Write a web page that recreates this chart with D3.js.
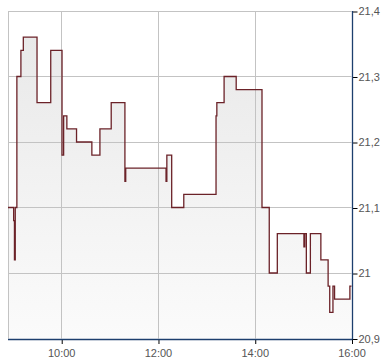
<!DOCTYPE html>
<html><head><meta charset="utf-8">
<script src="https://cdn.jsdelivr.net/npm/d3@7"></script>
<style>body{margin:0;background:#fff}svg{display:block}</style>
</head><body><svg id="c" width="390" height="364"></svg>
<script>
const times = ["08:54","09:01","09:02","09:03","09:05","09:10","09:13","09:30","09:47","10:01","10:03","10:07","10:19","10:38","10:48","11:02","11:19","11:20","12:10","12:11","12:17","12:32","13:12","13:13","13:22","13:37","14:09","14:18","14:28","15:01","15:02","15:04","15:09","15:22","15:31","15:33","15:37","15:39","15:58","16:00"];
const values = [21.10,21.08,21.02,21.10,21.30,21.34,21.36,21.26,21.34,21.18,21.24,21.22,21.20,21.18,21.22,21.26,21.14,21.16,21.14,21.18,21.10,21.12,21.24,21.26,21.30,21.28,21.10,21.00,21.06,21.04,21.06,21.00,21.06,21.02,20.98,20.94,20.98,20.96,20.98,20.98];
const xTickTimes = ["10:00","12:00","14:00","16:00"];
const xTickLabels = ["10:00","12:00","14:00","16:00"];
const yTickValues = [20.9,21.0,21.1,21.2,21.3,21.4];
const yTickLabels = ["20,9","21","21,1","21,2","21,3","21,4"];
const domainStart = "08:54", domainEnd = "16:00";

const parse = d3.timeParse("%H:%M");
const data = times.map((t,i)=>({t:parse(t), v:values[i]}));
const svg = d3.select("#c");
const L=8, R=351.5, T=11, B=338.5;
const x = d3.scaleTime().domain([parse(domainStart), parse(domainEnd)]).range([L,R]);
const y = d3.scaleLinear().domain([20.9,21.4]).range([B,T]);
const px = v => Math.round(v)+0.5;

const defs = svg.append("defs");
const g = defs.append("linearGradient").attr("id","gr").attr("x1",0).attr("y1",0).attr("x2",0).attr("y2",1);
g.append("stop").attr("offset","0%").attr("stop-color","#e9e9e9");
g.append("stop").attr("offset","100%").attr("stop-color","#fbfbfb");
defs.append("clipPath").attr("id","cp").append("rect").attr("x",L).attr("y",T).attr("width",R-L).attr("height",B-T);

// area
svg.append("path").datum(data).attr("clip-path","url(#cp)")
  .attr("fill","url(#gr)")
  .attr("d", d3.area().curve(d3.curveStepAfter).x(d=>x(d.t)).y0(B).y1(d=>y(d.v)));

// grid
const grid = svg.append("g").attr("stroke","#c3c3c3").attr("stroke-width",1);
yTickValues.forEach(v=>{ grid.append("line").attr("x1",L).attr("x2",R).attr("y1",px(y(v))).attr("y2",px(y(v))); });
grid.append("line").attr("x1",px(L)).attr("x2",px(L)).attr("y1",T).attr("y2",B);
xTickTimes.forEach(t=>{ const xx=px(x(parse(t))); grid.append("line").attr("x1",xx).attr("x2",xx).attr("y1",T).attr("y2",B); });

// line
svg.append("path").datum(data).attr("fill","none").attr("stroke","#6b2228").attr("stroke-width",1.3)
  .attr("d", d3.line().curve(d3.curveStepAfter).x(d=>x(d.t)).y(d=>y(d.v)));

// axes
const xAxis = d3.axisBottom(x).tickValues(xTickTimes.map(parse)).tickFormat((d,i)=>xTickLabels[i]).tickSize(5).tickPadding(5);
const gx = svg.append("g").attr("transform",`translate(0,${px(B)-0.5})`).call(xAxis);
gx.select(".domain").remove();
gx.selectAll(".tick line").attr("stroke","#000").attr("transform","translate(0.5,0)");
gx.selectAll("text").attr("fill","#555").style("font","11px 'Liberation Sans', Arial, sans-serif");
svg.append("line").attr("x1",L).attr("x2",R+1).attr("y1",px(B)).attr("y2",px(B)).attr("stroke","#1d3f6e").attr("stroke-width",1.3);

const yAxis = d3.axisRight(y).tickValues(yTickValues).tickFormat((d,i)=>yTickLabels[i]).tickSize(5).tickPadding(1);
const gy = svg.append("g").attr("transform",`translate(${px(R)},0)`).call(yAxis);
gy.select(".domain").remove();
gy.selectAll(".tick line").attr("stroke","#000").attr("transform","translate(0,0.5)");
gy.selectAll("text").attr("fill","#555").style("font","11px 'Liberation Sans', Arial, sans-serif");
svg.append("line").attr("x1",px(R)).attr("x2",px(R)).attr("y1",T).attr("y2",B+1).attr("stroke","#1d3f6e").attr("stroke-width",1.3);
</script></body></html>
